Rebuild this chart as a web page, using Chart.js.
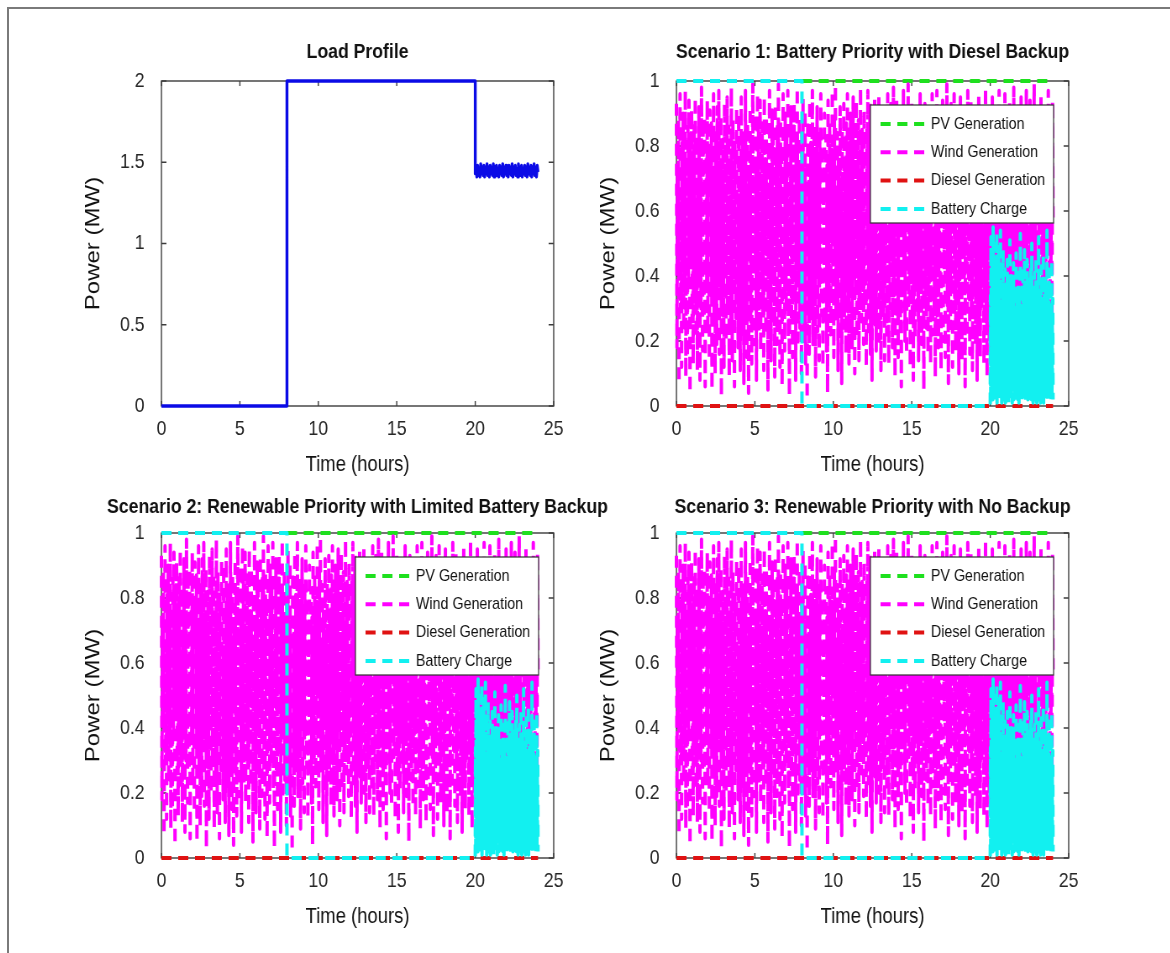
<!DOCTYPE html>
<html>
<head>
<meta charset="utf-8">
<script src="https://cdn.jsdelivr.net/npm/chart.js@4.4.1/dist/chart.umd.min.js"></script>
<style>
  html, body { margin: 0; padding: 0; background: #fff; }
  body { width: 1170px; height: 953px; position: relative; overflow: hidden; }
  #frame { position: absolute; left: 7px; top: 7px; width: 1200px; height: 1000px;
           border-left: 2px solid #7a7a7a; border-top: 2px solid #7a7a7a; }
  /* the figure is squeezed horizontally, text included */
  .panel { position: absolute; transform: scaleX(0.84); transform-origin: 0 0; }
  .panel canvas { display: block; }
</style>
</head>
<body>
<div id="frame"></div>
<div class="panel" style="left:68.6px; top:20px"><canvas id="loadChart" width="680" height="470"></canvas></div>
<div class="panel" style="left:583.6px; top:20px"><canvas id="scen1Chart" width="680" height="470"></canvas></div>
<div class="panel" style="left:68.6px; top:472px"><canvas id="scen2Chart" width="680" height="470"></canvas></div>
<div class="panel" style="left:583.6px; top:472px"><canvas id="scen3Chart" width="680" height="470"></canvas></div>

<script>
// sample spacing of the noisy parts (hours)
const windStep = 2 / 60;
const batteryStep = 1 / 60;
const loadStep = 3 / 60;

// load profile (MW)
const loadStepTimes = [0, 8, 8, 20];
const loadStepValues = [0, 0, 2, 2];
const loadTailValues = [
  1.43, 1.47, 1.41, 1.48, 1.42, 1.46, 1.41, 1.49, 1.43, 1.47, 1.42, 1.48, 1.41, 1.46, 1.43, 1.49, 1.42, 1.47, 1.41, 1.48,
  1.43, 1.46, 1.42, 1.49, 1.41, 1.47, 1.43, 1.48, 1.42, 1.46, 1.41, 1.48, 1.43, 1.47, 1.42, 1.49, 1.41, 1.46, 1.43, 1.48,
  1.42, 1.47, 1.41, 1.48, 1.43, 1.46, 1.42, 1.49, 1.41, 1.47, 1.43, 1.48, 1.42, 1.46, 1.41, 1.49, 1.43, 1.47, 1.42, 1.48,
  1.41, 1.46, 1.43, 1.48, 1.42, 1.47, 1.41, 1.49, 1.43, 1.46, 1.42, 1.48, 1.41, 1.47, 1.43, 1.49, 1.42, 1.46, 1.41, 1.48, 1.44
];

// generation (MW)
const pvTimes = [8, 24];
const pvValues = [1, 1];

const dieselTimes = [0, 24];
const dieselValues = [0, 0];

const windValues = [
  0.93, 0.18, 0.72, 0.41, 0.88, 0.07, 0.55, 0.96, 0.29, 0.64, 0.12, 0.81, 0.47, 0.90, 0.23, 0.68, 0.35, 0.97, 0.09, 0.76, 0.52, 0.15, 0.86, 0.38, 0.94, 0.61, 0.04, 0.79, 0.43, 0.91,
  0.26, 0.70, 0.13, 0.58, 0.87, 0.32, 0.95, 0.49, 0.21, 0.83, 0.11, 0.66, 0.39, 0.92, 0.57, 0.08, 0.74, 0.30, 0.98, 0.45, 0.17, 0.85, 0.62, 0.27, 0.89, 0.06, 0.53, 0.77, 0.36, 0.94,
  0.22, 0.80, 0.48, 0.14, 0.91, 0.59, 0.33, 0.87, 0.05, 0.69, 0.42, 0.96, 0.25, 0.73, 0.10, 0.84, 0.51, 0.19, 0.92, 0.60, 0.37, 0.97, 0.16, 0.71, 0.44, 0.89, 0.03, 0.63, 0.28, 0.82,
  0.54, 0.12, 0.93, 0.40, 0.78, 0.20, 0.67, 0.95, 0.31, 0.58, 0.86, 0.09, 0.50, 0.75, 0.24, 0.98, 0.46, 0.14, 0.88, 0.35, 0.70, 0.06, 0.81, 0.56, 0.27, 0.92, 0.43, 0.65, 0.18, 0.90,
  0.34, 0.77, 0.11, 0.61, 0.95, 0.39, 0.84, 0.21, 0.53, 0.07, 0.79, 0.47, 0.97, 0.30, 0.68, 0.15, 0.87, 0.58, 0.04, 0.73, 0.45, 0.92, 0.26, 0.83, 0.13, 0.66, 0.99, 0.37, 0.56, 0.19,
  0.90, 0.42, 0.74, 0.08, 0.62, 0.96, 0.33, 0.85, 0.23, 0.51, 0.94, 0.17, 0.69, 0.40, 0.87, 0.28, 0.60, 0.11, 0.95, 0.48, 0.76, 0.22, 0.89, 0.36, 0.64, 0.05, 0.81, 0.54, 0.97, 0.31,
  0.72, 0.14, 0.58, 0.91, 0.38, 0.83, 0.25, 0.67, 0.09, 0.93, 0.46, 0.78, 0.19, 0.86, 0.52, 0.99, 0.27, 0.70, 0.12, 0.88, 0.41, 0.80, 0.06, 0.63, 0.96, 0.34, 0.74, 0.17, 0.90, 0.55,
  0.29, 0.85, 0.44, 0.97, 0.21, 0.68, 0.03, 0.79, 0.49, 0.92, 0.26, 0.71, 0.15, 0.87, 0.50, 0.93, 0.32, 0.62, 0.08, 0.82, 0.43, 0.98, 0.18, 0.66, 0.37, 0.89, 0.24, 0.75, 0.57, 0.10,
  0.84, 0.35, 0.95, 0.20, 0.61, 0.45, 0.91, 0.13, 0.73, 0.52, 0.02, 0.88, 0.30, 0.69, 0.16, 0.94, 0.40, 0.81, 0.27, 0.63, 0.97, 0.19, 0.56, 0.86, 0.33, 0.78, 0.09, 0.65, 0.42, 0.92,
  0.23, 0.71, 0.50, 0.14, 0.85, 0.37, 0.96, 0.61, 0.28, 0.80, 0.12, 0.67, 0.43, 0.90, 0.25, 0.58, 0.83, 0.17, 0.74, 0.04, 0.94, 0.48, 0.31, 0.87, 0.60, 0.22, 0.79, 0.53, 0.97, 0.36,
  0.70, 0.15, 0.88, 0.45, 0.99, 0.27, 0.64, 0.38, 0.84, 0.11, 0.76, 0.56, 0.20, 0.92, 0.41, 0.68, 0.07, 0.85, 0.32, 0.59, 0.93, 0.24, 0.73, 0.51, 0.16, 0.87, 0.39, 0.96, 0.29, 0.62,
  0.13, 0.81, 0.47, 0.90, 0.34, 0.75, 0.18, 0.66, 0.95, 0.42, 0.57, 0.10, 0.82, 0.36, 0.94, 0.21, 0.69, 0.46, 0.88, 0.14, 0.77, 0.31, 0.98, 0.54, 0.26, 0.85, 0.40, 0.63, 0.19, 0.91,
  0.33, 0.79, 0.52, 0.12, 0.86, 0.44, 0.97, 0.23, 0.67, 0.38, 0.93, 0.16, 0.72, 0.58, 0.08, 0.89, 0.30, 0.80, 0.48, 0.95, 0.25, 0.64, 0.17, 0.90, 0.41, 0.75, 0.35, 0.96, 0.20, 0.83,
  0.55, 0.11, 0.71, 0.43, 0.87, 0.28, 0.61, 0.92, 0.14, 0.78, 0.50, 0.86, 0.22, 0.68, 0.96, 0.37, 0.13, 0.81, 0.59, 0.30, 0.93, 0.45, 0.77, 0.18, 0.64, 0.98, 0.34, 0.72, 0.09, 0.88,
  0.39, 0.95, 0.27, 0.62, 0.15, 0.84, 0.48, 0.91, 0.23, 0.70, 0.06, 0.79, 0.56, 0.33, 0.97, 0.44, 0.67, 0.20, 0.85, 0.52, 0.16, 0.74, 0.43, 0.99, 0.31, 0.60, 0.87, 0.12, 0.76, 0.40,
  0.94, 0.26, 0.65, 0.08, 0.83, 0.54, 0.21, 0.90, 0.37, 0.69, 0.92, 0.28, 0.57, 0.14, 0.80, 0.47, 0.96, 0.35, 0.66, 0.19, 0.88, 0.42, 0.73, 0.05, 0.61, 0.93, 0.32, 0.78, 0.24, 0.86,
  0.47, 0.16, 0.79, 0.34, 0.92, 0.58, 0.13, 0.71, 0.40, 0.96, 0.22, 0.63, 0.87, 0.30, 0.55, 0.09, 0.82, 0.44, 0.97, 0.27, 0.68, 0.18, 0.90, 0.51, 0.36, 0.85, 0.11, 0.74, 0.59, 0.94,
  0.20, 0.67, 0.42, 0.88, 0.15, 0.76, 0.53, 0.99, 0.31, 0.61, 0.07, 0.84, 0.45, 0.72, 0.24, 0.93, 0.38, 0.65, 0.12, 0.80, 0.57, 0.96, 0.29, 0.70, 0.17, 0.86, 0.49, 0.33, 0.91, 0.63,
  0.10, 0.78, 0.39, 0.95, 0.26, 0.69, 0.14, 0.83, 0.50, 0.92, 0.35, 0.60, 0.06, 0.87, 0.43, 0.73, 0.21, 0.97, 0.55, 0.32, 0.81, 0.16, 0.66, 0.94, 0.28, 0.58, 0.11, 0.85, 0.46, 0.90,
  0.37, 0.64, 0.19, 0.89, 0.52, 0.08, 0.75, 0.41, 0.96, 0.23, 0.68, 0.15, 0.84, 0.57, 0.30, 0.93, 0.44, 0.71, 0.13, 0.79, 0.35, 0.98, 0.26, 0.62, 0.09, 0.86, 0.48, 0.74, 0.20, 0.91,
  0.56, 0.17, 0.83, 0.42, 0.95, 0.29, 0.67, 0.12, 0.88, 0.51, 0.34, 0.92, 0.21, 0.70, 0.05, 0.79, 0.46, 0.97, 0.31, 0.63, 0.14, 0.85, 0.58, 0.25, 0.90, 0.40, 0.73, 0.18, 0.96, 0.53,
  0.27, 0.81, 0.44, 0.11, 0.87, 0.60, 0.32, 0.94, 0.19, 0.72, 0.48, 0.85, 0.08, 0.66, 0.39, 0.98, 0.23, 0.77, 0.54, 0.15, 0.89, 0.36, 0.69, 0.12, 0.93, 0.50, 0.28, 0.82, 0.43, 0.95,
  0.16, 0.73, 0.52, 0.90, 0.24, 0.65, 0.07, 0.86, 0.45, 0.97, 0.33, 0.59, 0.18, 0.80, 0.62, 0.28, 0.94, 0.41, 0.76, 0.10, 0.88, 0.55, 0.22, 0.69, 0.99, 0.37, 0.84, 0.14, 0.61, 0.92,
  0.30, 0.76, 0.47, 0.13, 0.89, 0.58, 0.25, 0.96, 0.40, 0.71, 0.06, 0.83, 0.52, 0.92, 0.19, 0.67, 0.35, 0.87, 0.11, 0.74, 0.49, 0.97, 0.27, 0.64, 0.15, 0.85, 0.43, 0.78, 0.21, 0.94,
  0.58
];

const batteryStepTimes = [0, 8, 8, 20];
const batteryStepValues = [1, 1, 0, 0];
const batteryTailValues = [
  0.00, 0.34, 0.03, 0.52, 0.07, 0.29, 0.01, 0.47, 0.05, 0.38, 0.02, 0.55, 0.09, 0.31, 0.04, 0.44, 0.06, 0.27, 0.02, 0.50,
  0.08, 0.36, 0.03, 0.41, 0.05, 0.53, 0.01, 0.30, 0.07, 0.46, 0.04, 0.33, 0.02, 0.49, 0.06, 0.28, 0.03, 0.39, 0.08, 0.54,
  0.02, 0.32, 0.05, 0.43, 0.01, 0.26, 0.07, 0.37, 0.03, 0.48, 0.06, 0.30, 0.02, 0.35, 0.04, 0.25, 0.08, 0.42, 0.01, 0.29,
  0.05, 0.36, 0.03, 0.27, 0.07, 0.45, 0.02, 0.31, 0.06, 0.24, 0.01, 0.38, 0.04, 0.28, 0.08, 0.51, 0.03, 0.33, 0.05, 0.26,
  0.02, 0.40, 0.06, 0.30, 0.01, 0.35, 0.07, 0.23, 0.04, 0.44, 0.02, 0.29, 0.05, 0.37, 0.03, 0.26, 0.08, 0.32, 0.01, 0.47,
  0.06, 0.28, 0.03, 0.36, 0.05, 0.25, 0.02, 0.41, 0.07, 0.30, 0.01, 0.34, 0.04, 0.27, 0.06, 0.53, 0.03, 0.31, 0.02, 0.24,
  0.05, 0.38, 0.01, 0.29, 0.07, 0.43, 0.03, 0.26, 0.06, 0.33, 0.02, 0.48, 0.04, 0.30, 0.08, 0.25, 0.01, 0.37, 0.05, 0.28,
  0.03, 0.45, 0.06, 0.31, 0.02, 0.27, 0.07, 0.39, 0.04, 0.24, 0.01, 0.35, 0.05, 0.29, 0.03, 0.42, 0.06, 0.26, 0.02, 0.50,
  0.07, 0.32, 0.04, 0.28, 0.01, 0.36, 0.05, 0.23, 0.03, 0.41, 0.06, 0.30, 0.02, 0.27, 0.08, 0.46, 0.04, 0.33, 0.01, 0.25,
  0.05, 0.38, 0.03, 0.29, 0.06, 0.52, 0.02, 0.31, 0.07, 0.26, 0.04, 0.35, 0.01, 0.28, 0.05, 0.43, 0.03, 0.24, 0.06, 0.37,
  0.02, 0.30, 0.04, 0.47, 0.01, 0.27, 0.07, 0.34, 0.03, 0.25, 0.05, 0.40, 0.02, 0.29, 0.06, 0.33, 0.04, 0.54, 0.01, 0.28,
  0.06, 0.36, 0.03, 0.26, 0.05, 0.42, 0.02, 0.31, 0.07, 0.24, 0.04, 0.38, 0.01, 0.29, 0.05, 0.45, 0.03, 0.27, 0.06, 0.33,
  0.02
];

const scenarioTitles = [
  'Scenario 1: Battery Priority with Diesel Backup',
  'Scenario 2: Renewable Priority with Limited Battery Backup',
  'Scenario 3: Renewable Priority with No Backup'
];

const FONT = '"Liberation Sans", Arial, Helvetica, sans-serif';
const DASH = [12, 8];

function toPoints(times, values) {
  return values.map((v, i) => ({x: times[i], y: v}));
}
function sampleTimes(start, step, values) {
  return values.map((_, i) => start + i * step);
}

// matlab style box with inward ticks on all four sides
const boxPlugin = {
  id: 'matlabBox',
  beforeDatasetsDraw(chart) {
    const {ctx, chartArea: a, scales: {x, y}} = chart;
    ctx.save();
    ctx.strokeStyle = '#3c3c3c';
    ctx.lineWidth = 1.4;
    ctx.strokeRect(a.left, a.top, a.right - a.left, a.bottom - a.top);
    ctx.beginPath();
    x.ticks.forEach(t => {
      const px = x.getPixelForValue(t.value);
      ctx.moveTo(px, a.bottom); ctx.lineTo(px, a.bottom - 5);
      ctx.moveTo(px, a.top); ctx.lineTo(px, a.top + 5);
    });
    y.ticks.forEach(t => {
      const py = y.getPixelForValue(t.value);
      ctx.moveTo(a.left, py); ctx.lineTo(a.left + 6, py);
      ctx.moveTo(a.right, py); ctx.lineTo(a.right - 6, py);
    });
    ctx.stroke();
    ctx.restore();
  }
};

// title centred over the axes, not over the canvas
const headingPlugin = {
  id: 'heading',
  afterDraw(chart, args, opts) {
    const {ctx, chartArea: a} = chart;
    ctx.save();
    ctx.font = 'bold 21px ' + FONT;
    ctx.fillStyle = '#111';
    ctx.textAlign = 'center';
    ctx.textBaseline = 'middle';
    ctx.fillText(opts.text, (a.left + a.right) / 2, opts.y);
    ctx.restore();
  }
};

// boxed legend inside the axes
const boxLegendPlugin = {
  id: 'boxLegend',
  afterDatasetsDraw(chart, args, opts) {
    if (!opts.show) return;
    const {ctx, chartArea: a} = chart;
    const left = a.left + opts.dx, top = a.top + opts.dy;
    ctx.save();
    ctx.fillStyle = '#fff';
    ctx.fillRect(left, top, opts.w, opts.h);
    ctx.strokeStyle = '#303030';
    ctx.lineWidth = 1.2;
    ctx.strokeRect(left, top, opts.w, opts.h);
    ctx.font = '17px ' + FONT;
    ctx.textBaseline = 'middle';
    chart.data.datasets.forEach((ds, i) => {
      const ly = top + 19 + i * 28.3;
      ctx.strokeStyle = ds.borderColor;
      ctx.lineWidth = ds.borderWidth;
      ctx.setLineDash(ds.borderDash || []);
      ctx.beginPath();
      ctx.moveTo(left + 12, ly);
      ctx.lineTo(left + 67, ly);
      ctx.stroke();
      ctx.setLineDash([]);
      ctx.fillStyle = '#111';
      ctx.fillText(ds.label, left + 72, ly);
    });
    ctx.restore();
  }
};

function makeChart(id, datasets, yMax, yStep, heading, headingY, showLegend) {
  return new Chart(document.getElementById(id), {
    type: 'line',
    data: {datasets: datasets},
    options: {
      responsive: false,
      animation: false,
      devicePixelRatio: 1,
      layout: {padding: {left: 10, top: 61, right: 103, bottom: 10}},
      elements: {point: {radius: 0}, line: {tension: 0, borderJoinStyle: 'round'}},
      scales: {
        x: {
          type: 'linear', min: 0, max: 25,
          grid: {display: false}, border: {display: false},
          ticks: {stepSize: 5, padding: 3, maxRotation: 0, color: '#262626', font: {size: 21, family: FONT}},
          title: {display: true, text: 'Time (hours)', color: '#111', font: {size: 22, family: FONT}, padding: {top: 0, bottom: 2}},
          afterFit: s => { s.height = 74; }
        },
        y: {
          type: 'linear', min: 0, max: yMax,
          grid: {display: false}, border: {display: false},
          ticks: {
            stepSize: yStep, padding: 12, color: '#262626', font: {size: 21, family: FONT},
            callback: v => String(Math.round(v * 10) / 10)
          },
          title: {display: true, text: 'Power (MW)', color: '#111', font: {size: 24, family: FONT}, padding: {top: 5, bottom: 0}},
          afterFit: s => { s.width = 100; }
        }
      },
      plugins: {
        legend: {display: false},
        tooltip: {enabled: false},
        heading: {text: heading, y: headingY},
        boxLegend: {show: showLegend, dx: 231, dy: 24, w: 218, h: 118}
      }
    },
    plugins: [boxPlugin, headingPlugin, boxLegendPlugin]
  });
}

const loadPoints = toPoints(loadStepTimes, loadStepValues)
  .concat(toPoints(sampleTimes(20, loadStep, loadTailValues), loadTailValues));

makeChart('loadChart', [{
  label: 'Load',
  data: loadPoints,
  borderColor: '#0b0be6',
  borderWidth: 3.4,
  clip: 6
}], 2, 0.5, 'Load Profile', 32, false);

function scenarioDatasets() {
  const batteryPoints = toPoints(batteryStepTimes, batteryStepValues)
    .concat(toPoints(sampleTimes(20, batteryStep, batteryTailValues), batteryTailValues));
  const windPoints = toPoints(sampleTimes(0, windStep, windValues), windValues);
  return [
    {label: 'PV Generation', data: toPoints(pvTimes, pvValues), borderColor: '#1ee01e', borderWidth: 4, borderDash: DASH, order: 4, clip: 6},
    {label: 'Wind Generation', data: windPoints, borderColor: '#ff00ff', borderWidth: 4, borderDash: DASH, order: 3, clip: 6},
    {label: 'Diesel Generation', data: toPoints(dieselTimes, dieselValues), borderColor: '#e01212', borderWidth: 4, borderDash: DASH, order: 2, clip: 6},
    {label: 'Battery Charge', data: batteryPoints, borderColor: '#12f0f0', borderWidth: 4, borderDash: DASH, order: 1, clip: 6}
  ];
}

makeChart('scen1Chart', scenarioDatasets(), 1, 0.2, scenarioTitles[0], 32, true);
makeChart('scen2Chart', scenarioDatasets(), 1, 0.2, scenarioTitles[1], 35, true);
makeChart('scen3Chart', scenarioDatasets(), 1, 0.2, scenarioTitles[2], 35, true);
</script>
</body>
</html>
